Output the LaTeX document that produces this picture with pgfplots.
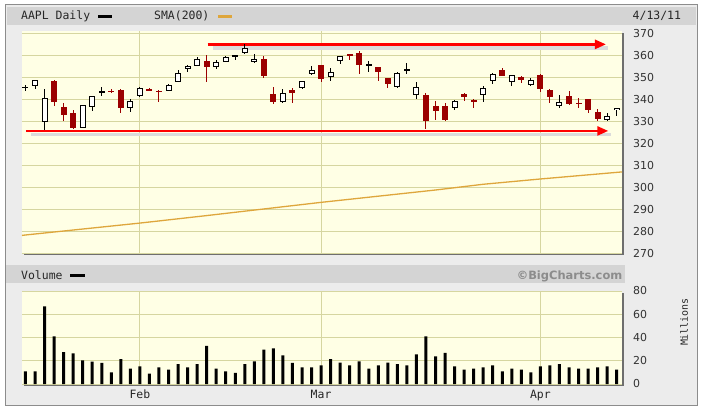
\documentclass[border=0pt]{standalone}
\usepackage{fontspec}
\setmainfont{DejaVu Sans}
\newfontfamily\monofont{DejaVu Sans Mono}
\usepackage{pgfplots}
\usepackage{pgfplotstable}
\pgfplotsset{compat=1.18}
\usetikzlibrary{arrows.meta}
\definecolor{cream}{RGB}{255,255,229}
\definecolor{gridcol}{RGB}{214,214,160}
\definecolor{panel}{RGB}{236,236,236}
\definecolor{headcol}{RGB}{212,212,212}
\definecolor{redc}{RGB}{155,0,0}
\definecolor{smacol}{RGB}{222,166,60}
\definecolor{labcol}{RGB}{51,51,51}
\definecolor{shadowcol}{RGB}{110,110,110}

\pgfplotstableread{
i o h l c
0 345.20 346.60 343.85 345.68
1 345.89 348.48 344.44 348.48
2 329.52 344.76 326.00 340.65
6 326.87 337.45 326.72 337.45
7 336.33 341.44 334.57 341.40
8 342.96 345.60 341.50 343.85
11 335.80 340.04 334.30 339.32
12 341.30 345.65 340.98 345.03
15 343.64 346.70 343.51 346.50
16 347.89 353.25 347.64 351.88
17 353.68 355.52 352.15 355.20
18 355.19 359.00 354.87 358.16
20 354.75 357.80 353.54 356.85
21 356.79 359.48 356.71 359.18
22 359.19 359.97 357.55 359.90
23 360.80 364.90 360.50 363.13
24 357.00 360.27 356.52 358.30
27 338.77 344.64 338.40 342.62
29 345.26 348.43 344.80 348.16
30 351.24 355.05 351.12 353.21
32 349.96 354.35 348.40 352.12
33 357.19 359.79 355.92 359.56
36 354.91 357.40 352.25 355.76
39 345.33 352.32 345.00 351.99
40 353.18 356.48 351.31 353.56
41 342.10 347.84 340.10 345.43
45 335.99 339.74 335.26 339.30
48 341.85 346.00 338.86 344.97
49 348.07 352.06 347.02 351.54
51 347.66 350.96 346.06 350.96
53 346.36 349.80 346.06 348.51
56 336.99 342.00 336.16 338.89
61 330.49 333.73 330.04 332.40
62 335.02 336.14 332.52 336.13
}\upcandles

\pgfplotstableread{
i o h l c
3 348.35 348.60 336.88 338.84
4 336.43 338.30 330.12 332.68
5 333.77 334.88 326.63 326.72
9 343.78 344.69 342.83 343.21
10 344.17 344.40 333.53 336.10
13 344.45 345.25 343.55 344.32
14 343.80 344.24 338.55 343.44
19 357.39 360.00 348.00 354.54
25 358.21 359.50 349.52 350.56
26 342.15 345.40 337.72 338.61
28 344.02 345.15 338.37 342.88
31 355.47 355.72 347.68 349.31
34 360.07 360.29 357.75 360.00
35 361.11 361.67 351.31 355.36
37 354.69 354.76 348.37 352.47
38 349.69 349.77 344.90 346.67
42 342.00 343.00 326.26 330.01
43 336.83 339.40 330.60 334.64
44 337.13 338.20 330.00 330.67
46 342.56 342.62 339.14 341.20
47 339.28 340.22 335.95 339.19
50 353.15 354.32 350.44 350.44
52 350.11 350.50 347.32 348.63
54 351.11 351.59 343.30 344.56
55 344.31 344.60 338.40 341.19
57 341.22 343.90 337.14 338.04
58 338.10 340.43 336.03 338.08
59 339.92 340.15 333.95 335.06
60 334.06 335.67 330.02 330.80
}\downcandles

\pgfplotstableread{
i v
0 10.9
1 10.9
2 66.8
3 41.0
4 27.5
5 26.4
6 20.4
7 19.2
8 18.1
9 10.0
10 21.5
11 13.2
12 15.2
13 8.9
14 14.3
15 12.3
16 17.2
17 14.3
18 17.2
19 32.7
20 13.2
21 10.9
22 9.5
23 17.2
24 19.5
25 29.5
26 30.7
27 24.7
28 18.1
29 14.3
30 14.3
31 16.1
32 21.5
33 18.4
34 16.1
35 19.5
36 13.2
37 16.1
38 18.4
39 17.2
40 16.1
41 25.5
42 41.0
43 23.8
44 26.7
45 15.2
46 12.3
47 13.2
48 14.3
49 16.1
50 10.9
51 13.2
52 12.3
53 10.0
54 15.2
55 16.1
56 17.2
57 14.3
58 13.2
59 13.2
60 14.3
61 15.2
62 12.3
}\volume

\pgfplotsset{
  panelaxis/.style={
    scale only axis, width=600bp,
    xmin=-0.367, xmax=62.56,
    axis background/.style={fill=cream},
    axis line style={draw=none},
    xtick={12,31,54},
    yticklabel pos=right,
    major tick length=0pt,
    xmajorgrids, ymajorgrids,
    grid style={draw=gridcol, line width=0.9bp},
    yticklabel style={anchor=west, inner sep=0pt, xshift=11bp, font=\fontsize{11}{12}\selectfont, text=labcol},
    /pgf/number format/assume math mode=true,
  },
  wick/.style={draw=none, mark=none, forget plot,
    error bars/.cd, y dir=both, y explicit, error mark=none,
    error bar style={line width=1bp, draw=#1}},
  body/.style 2 args={draw=none, mark=none, forget plot,
    error bars/.cd, y dir=both, y explicit, error mark=none,
    error bar style={line width=#2, draw=#1}},
}

\begin{document}
\begin{tikzpicture}[x=1bp,y=1bp]
\useasboundingbox (0,0) rectangle (702,411);
\fill[white] (0,0) rectangle (702,411);
\filldraw[fill=panel, draw=black!45] (5,6) rectangle (697,406.5);
\fill[headcol] (6.5,386) rectangle (695.5,404);
\fill[headcol] (6,128) rectangle (625,146);
% header texts
\node[anchor=base west, inner sep=0pt, text=black!85] at (21,391) {\monofont\fontsize{11.5}{12}\selectfont AAPL Daily};
\draw[line width=2.5bp, black] (98,394.5) -- (112,394.5);
\node[anchor=base west, inner sep=0pt, text=black!85] at (154,391) {\monofont\fontsize{11.5}{12}\selectfont SMA(200)};
\draw[line width=2.5bp, smacol] (218,394.5) -- (232,394.5);
\node[anchor=base west, inner sep=0pt, text=black!85] at (632.5,391) {\monofont\fontsize{11.5}{12}\selectfont 4/13/11};
\node[anchor=base west, inner sep=0pt, text=black!85] at (21,131.7) {\monofont\fontsize{11.5}{12}\selectfont Volume};
\draw[line width=2.5bp, black] (70,135.5) -- (85,135.5);
\node[anchor=base east, inner sep=0pt, text=black!45] at (622.5,131.7) {\bfseries\fontsize{11.5}{12}\selectfont ©BigCharts.com};
\node[rotate=90, inner sep=0pt, text=black!85] at (684,89) {\monofont\fontsize{10}{11}\selectfont Millions};
% shadows of the panels
\fill[shadowcol] (23.5,156) rectangle (624,378);
\fill[shadowcol] (23.5,25.5) rectangle (624,118.5);

% price panel
\begin{axis}[panelaxis,
  at={(22bp,157.5bp)}, anchor=south west,
  height=222bp,
  ymin=270, ymax=370.7,
  ytick={270,280,...,370},
  xticklabels={\empty,\empty,\empty},
]
% red support/resistance lines with soft shadows
\addplot[black!14, line width=3.5bp, forget plot] coordinates {(0.6,324.0) (61.4,324.0)};
\addplot[black!14, line width=3.5bp, forget plot] coordinates {(19.7,363.2) (61.1,363.2)};
\addplot[red, line width=2.4bp, -{Triangle[length=11bp,width=9bp]}, forget plot] coordinates {(0.05,325.6) (61.12,325.6)};
\addplot[red, line width=2.4bp, -{Triangle[length=11bp,width=9bp]}, forget plot] coordinates {(19.11,364.86) (60.88,364.86)};
% SMA 200
\addplot[smacol, line width=1.3bp, forget plot] coordinates {
(-0.37,278.2) (0,278.4) (6,281.1) (12,283.8) (19,287.2) (25,290.2) (31,293.2)
(37,296.0) (43,298.8) (48,301.4) (54,303.8) (58,305.3) (62,306.8) (62.56,307.0)};
% down candles (red, filled)
\addplot[wick=redc] table[x=i, y expr=(\thisrow{h}+\thisrow{l})/2, y error expr=(\thisrow{h}-\thisrow{l})/2] {\downcandles};
\addplot[body={redc}{6bp}] table[x=i, y expr=(\thisrow{o}+\thisrow{c})/2, y error expr={max(abs(\thisrow{c}-\thisrow{o})/2,0.25)}] {\downcandles};
% up candles (black, hollow)
\addplot[wick=black] table[x=i, y expr=(\thisrow{h}+\thisrow{l})/2, y error expr=(\thisrow{h}-\thisrow{l})/2] {\upcandles};
\addplot[body={black}{6bp}] table[x=i, y expr=(\thisrow{o}+\thisrow{c})/2, y error expr={max(abs(\thisrow{c}-\thisrow{o})/2,0.25)}] {\upcandles};
\addplot[body={white}{4bp}] table[x=i, y expr=(\thisrow{o}+\thisrow{c})/2, y error expr={max(abs(\thisrow{c}-\thisrow{o})/2-0.45,0)}] {\upcandles};
\end{axis}

% volume panel
\begin{axis}[panelaxis,
  at={(22bp,27bp)}, anchor=south west,
  height=93bp,
  ymin=0, ymax=80,
  ytick={0,20,...,80},
  xticklabels={Feb,Mar,Apr},
  xticklabel style={anchor=base, inner sep=0pt, yshift=-14.5bp, font=\monofont\fontsize{11.5}{12}\selectfont, text=black!85},
]
\addplot[ybar, bar width=3bp, bar shift=0pt, fill=black, draw=none] table[x=i, y=v] {\volume};
\end{axis}
\end{tikzpicture}
\end{document}
